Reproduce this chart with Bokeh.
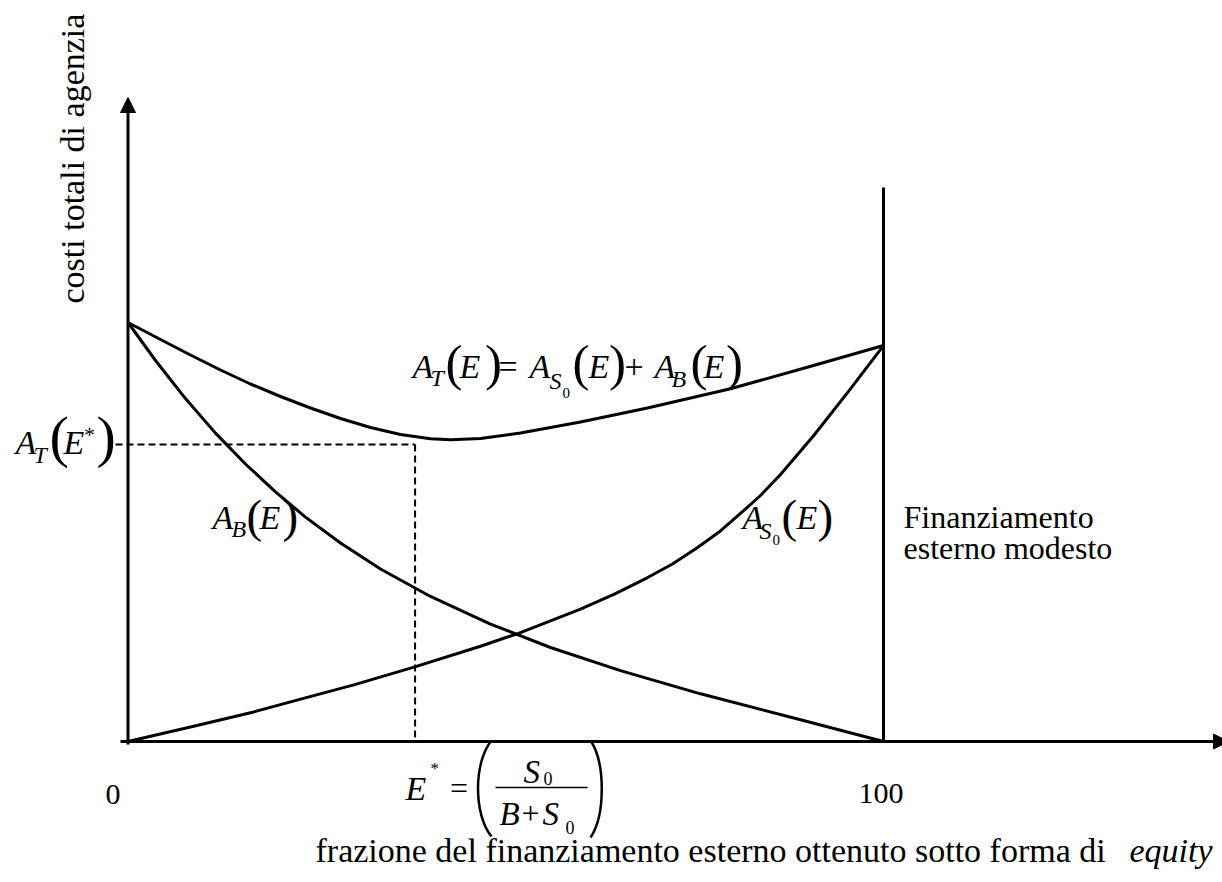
import math
from bokeh.plotting import figure
from bokeh.models import Range1d, Arrow, NormalHead
from bokeh.core.properties import value
from bokeh.embed import file_html
from bokeh.resources import INLINE

# ---------------- data ----------------
# A_B(E): agency cost of debt, decreasing
E_B = [0, 3.64, 7.61, 11.58, 15.55, 19.52, 23.49, 28.13, 33.42, 40.04, 47.98, 55.92, 65.19, 75.78, 89.01, 100]
A_B = [100, 90.93, 81.84, 73.60, 66.23, 59.57, 53.56, 47.37, 41.17, 34.61, 28.02, 22.43, 16.92, 11.38, 5.18, 0]
# A_S0(E): agency cost of outside equity, increasing
E_S = [0, 8.27, 16.65, 23.23, 29.89, 37.96, 46.66, 51.69, 59.89, 64.39, 68.72, 72.07, 75.34, 78.42,
       81.07, 83.72, 86.37, 90.77, 95.19, 100]
A_S = [0, 3.46, 7.06, 10.29, 13.51, 17.80, 22.74, 25.82, 31.60, 35.18, 39.07, 42.36, 46.23, 50.24,
       54.42, 58.71, 63.72, 73.03, 83.15, 94.5]
# A_T(E): total agency cost
E_T = [0, 4.30, 8.27, 12.24, 16.21, 20.19, 24.16, 28.13, 32.10, 36.07, 40.04, 42.69, 46.66, 51.95,
       59.89, 68.76, 79.75, 90.73, 100]
A_T = [100, 95.94, 92.24, 88.66, 85.32, 82.34, 79.59, 77.09, 74.94, 73.27, 72.24, 72.00, 72.32, 73.63,
       76.25, 79.59, 84.18, 89.74, 94.5]
# optimum
E_STAR = 38.0
A_T_STAR = 70.9
# limit (100 %)
E_MAX = 100
X_TICK_LABELS = ["0", "100"]
Y_TITLE = "costi totali di agenzia"
X_TITLE = "frazione del finanziamento esterno ottenuto sotto forma di"
X_TITLE_IT = "equity"
NOTE = ["Finanziamento", "esterno modesto"]

# ---------------- layout helpers (page pixels -> data) ----------------
W, H = 1222, 882
PX0, PXS = 127.5, 7.555      # page x of E=0, pixels per unit
PY0, PYS = 741.0, 4.19       # page y of cost=0, pixels per unit
BASE_FIX = 0.29              # renderer draws text this many em below the requested baseline


def X(sx):
    return (sx - PX0) / PXS


def Y(sy):
    return (PY0 - sy) / PYS


p = figure(width=W, height=H, output_backend="svg", toolbar_location=None,
           x_axis_type=None, y_axis_type=None, min_border=0,
           x_range=Range1d(X(0), X(W)), y_range=Range1d(Y(H), Y(0)),
           outline_line_color=None, background_fill_color="white",
           border_fill_color="white")
p.grid.visible = False

FONT = value("Liberation Serif")


def put(s, sx, sy, size, style="normal", align="left", angle=0.0):
    d = BASE_FIX * size
    sx -= d * math.sin(angle)
    sy -= d * math.cos(angle)
    p.text(x=[X(sx)], y=[Y(sy)], text=[s], text_font=FONT,
           text_font_size=f"{size}px", text_font_style=style,
           text_align=align, text_baseline="alphabetic", angle=angle,
           text_color="black")


# ---------------- axes ----------------
p.add_layout(Arrow(end=NormalHead(size=15, fill_color="black", line_color="black", line_width=1),
                   x_start=0, y_start=Y(744), x_end=0, y_end=Y(97),
                   line_width=3, line_color="black"))
p.add_layout(Arrow(end=NormalHead(size=15, fill_color="black", line_color="black", line_width=1),
                   x_start=X(120), y_start=0, x_end=X(1228), y_end=0,
                   line_width=3, line_color="black"))
# vertical limit at 100
p.segment(x0=[E_MAX], y0=[0], x1=[E_MAX], y1=[Y(187)], line_width=3, line_color="black")

# ---------------- curves ----------------
for xs, ys in ((E_B, A_B), (E_S, A_S), (E_T, A_T)):
    p.line(xs, ys, line_width=3, line_color="black", line_join="round")

# ---------------- optimum guides ----------------
p.line([X(115), E_STAR], [A_T_STAR, A_T_STAR], line_width=2, line_color="black", line_dash="7 4")
p.line([E_STAR, E_STAR], [A_T_STAR, 0], line_width=2, line_color="black", line_dash="7 4")

# ---------------- text ----------------
put(Y_TITLE, 82, 303, 34, angle=math.pi / 2)
put(X_TITLE, 315, 860, 34)
put(X_TITLE_IT, 1212, 860, 34, style="italic", align="right")
put(X_TICK_LABELS[0], 105, 803, 30)
put(X_TICK_LABELS[1], 858, 802, 30)
put(NOTE[0], 903, 526, 32)
put(NOTE[1], 903, 557, 32)

# A_T(E) = A_S0(E) + A_B(E)
for s, sx, sy, sz, st in [
    ("A", 412, 376, 34, "italic"), ("T", 430, 384, 24, "italic"),
    ("(", 445, 377.5, 51, "normal"), ("E", 459, 376, 34, "italic"), (")", 484.5, 377.5, 51, "normal"),
    ("=", 498, 376, 34, "normal"),
    ("A", 529, 376, 34, "italic"), ("S", 549, 387, 24, "italic"), ("0", 562, 397, 15, "normal"),
    ("(", 572, 377.5, 51, "normal"), ("E", 588, 376, 34, "italic"), (")", 608.5, 377.5, 51, "normal"),
    ("+", 624, 376, 34, "normal"),
    ("A", 654, 376, 34, "italic"), ("B", 671, 385, 24, "italic"),
    ("(", 690, 377.5, 51, "normal"), ("E", 703, 376, 34, "italic"), (")", 725.5, 377.5, 51, "normal"),
]:
    put(s, sx, sy, sz, st)

# A_S0(E)
for s, sx, sy, sz, st in [
    ("A", 742, 527, 34, "italic"), ("S", 759, 537, 24, "italic"), ("0", 772, 544, 15, "normal"),
    ("(", 781, 529, 47, "normal"), ("E", 796, 527, 34, "italic"), (")", 817, 529, 47, "normal"),
]:
    put(s, sx, sy, sz, st)

# A_B(E)
for s, sx, sy, sz, st in [
    ("A", 212, 527, 34, "italic"), ("B", 231, 535, 24, "italic"),
    ("(", 246, 529, 47, "normal"), ("E", 259, 527, 34, "italic"), (")", 282, 529, 47, "normal"),
]:
    put(s, sx, sy, sz, st)

# A_T(E*)
for s, sx, sy, sz, st in [
    ("A", 15, 452, 34, "italic"), ("T", 33, 461, 24, "italic"),
    ("(", 49, 452.5, 58, "normal"), ("E", 63, 452, 34, "italic"),
    ("*", 83.5, 440, 22, "normal"), (")", 96, 452.5, 58, "normal"),
]:
    put(s, sx, sy, sz, st)

# E* = ( S0 / (B + S0) )
for s, sx, sy, sz, st in [
    ("E", 405, 798, 34, "italic"), ("*", 430, 773, 17, "normal"), ("=", 449.6, 797, 32, "normal"),
    ("S", 523, 781, 33, "italic"), ("0", 543, 783, 18, "normal"),
    ("B", 499, 823, 33, "italic"), ("+", 521, 822, 32, "normal"),
    ("S", 542, 823, 33, "italic"), ("0", 565, 832, 18, "normal"),
]:
    put(s, sx, sy, sz, st)
p.segment(x0=[X(495)], y0=[Y(787)], x1=[X(587)], y1=[Y(787)], line_width=1.5, line_color="black")
p.bezier(x0=[X(491), X(590)], y0=[Y(740), Y(740)], x1=[X(491), X(590)], y1=[Y(836), Y(837)],
         cx0=[X(473), X(605)], cy0=[Y(762), Y(762)], cx1=[X(473), X(605)], cy1=[Y(814), Y(815)],
         line_width=2.5, line_color="black")

open("out.html", "w").write(file_html(p, INLINE))
